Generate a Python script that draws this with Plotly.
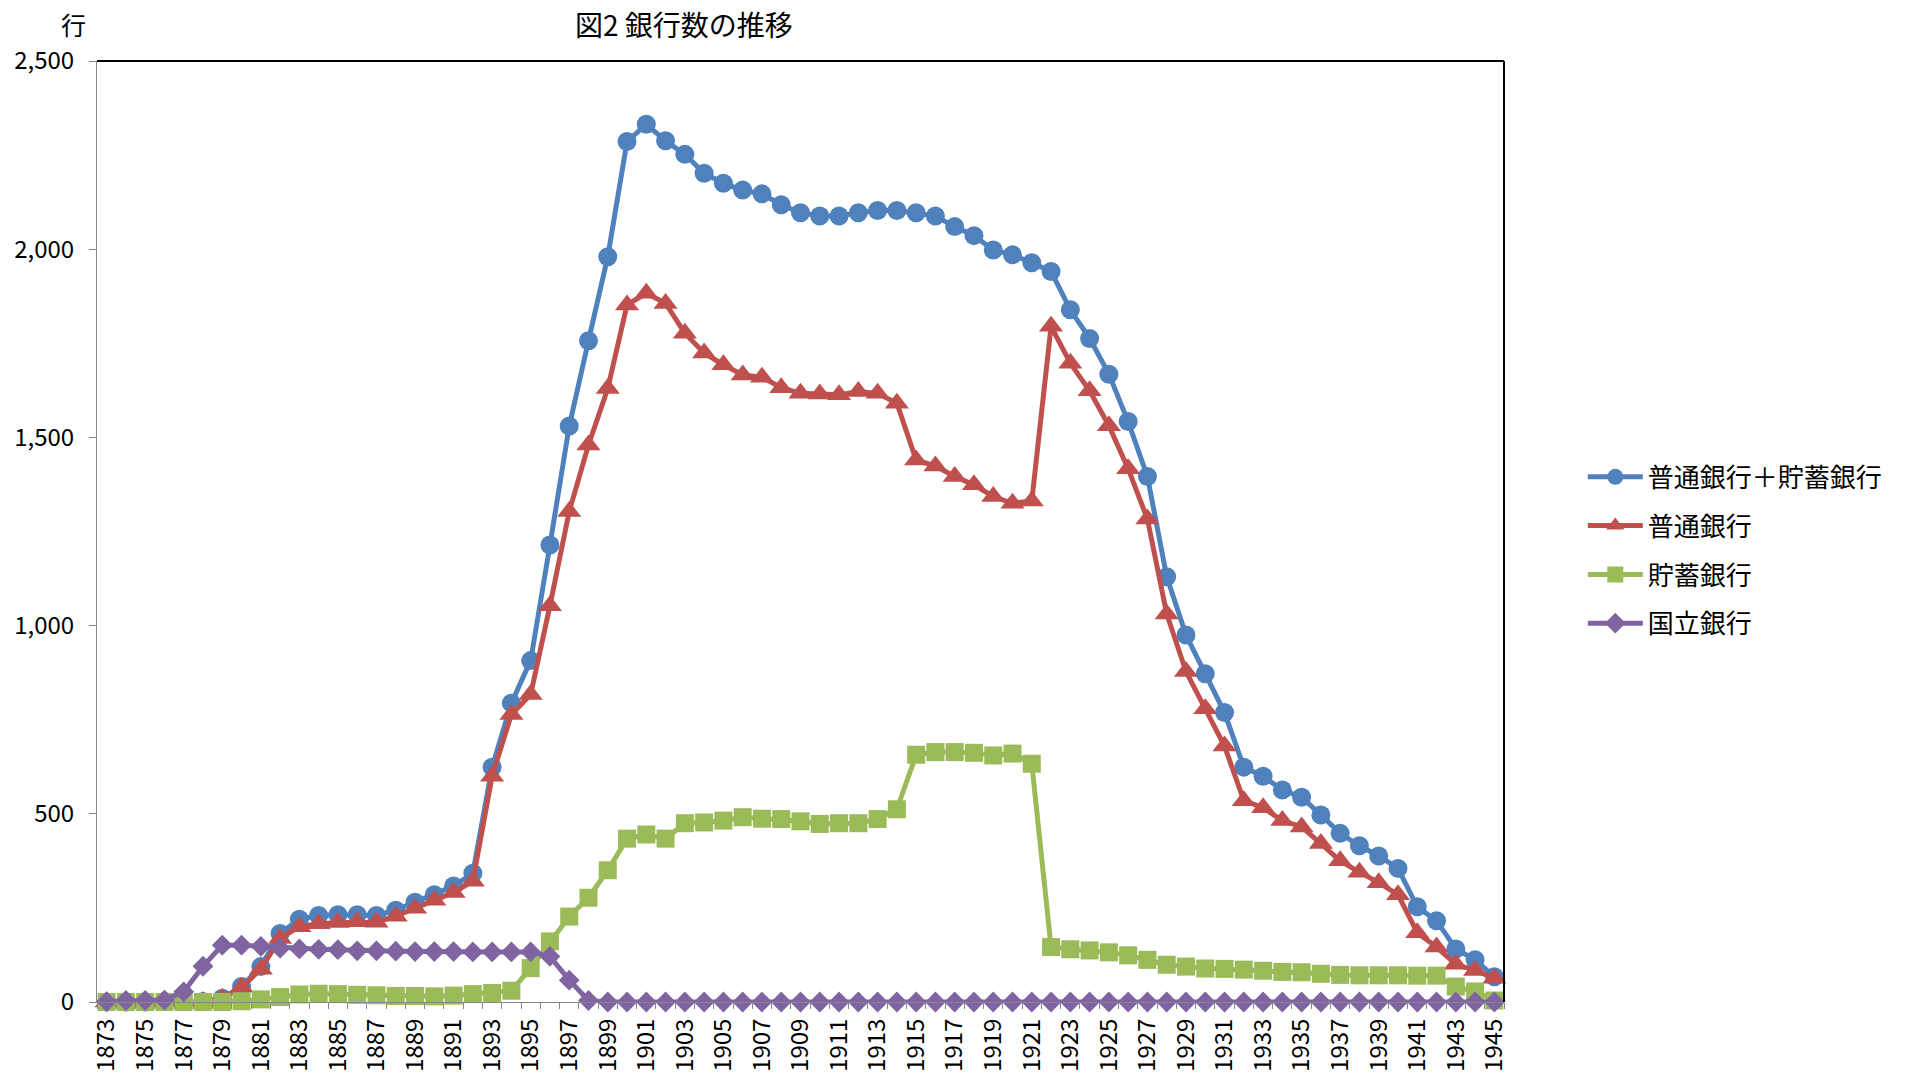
import plotly.graph_objects as go

# Number of banks in Japan, 1873-1945
years = list(range(1873, 1946))

total_banks = [
    0, 0, 0, 1, 1, 1, 10, 41, 94, 182,
    220, 230, 232, 232, 230, 244, 265, 285, 308, 342,
    624, 794, 907, 1214, 1530, 1757, 1980, 2286, 2332, 2288,
    2252, 2202, 2175, 2157, 2147, 2118, 2097, 2088, 2088, 2097,
    2103, 2103, 2097, 2088, 2060, 2036, 1998, 1985, 1964, 1941,
    1839, 1763, 1668, 1542, 1396, 1130, 975, 872, 769, 624,
    600, 563, 544, 497, 448, 415, 388, 355, 253, 216,
    141, 112, 67,
]

ordinary_banks = [
    0, 0, 0, 1, 1, 1, 10, 39, 87, 169,
    200, 208, 211, 213, 212, 228, 249, 270, 291, 321,
    600, 764, 817, 1053, 1303, 1480, 1630, 1852, 1883, 1856,
    1777, 1724, 1693, 1666, 1660, 1632, 1617, 1615, 1613, 1622,
    1617, 1591, 1440, 1424, 1396, 1374, 1343, 1325, 1331, 1795,
    1697, 1624, 1531, 1417, 1283, 1031, 878, 779, 680, 535,
    516, 482, 465, 421, 375, 345, 317, 285, 184, 146,
    100, 84, 63,
]

savings_banks = [
    0, 0, 0, 0, 0, 0, 0, 2, 7, 13,
    20, 22, 21, 19, 18, 16, 16, 15, 17, 21,
    24, 30, 90, 161, 227, 277, 350, 434, 445, 434,
    475, 477, 482, 491, 487, 486, 480, 473, 475, 475,
    486, 512, 657, 664, 664, 662, 655, 660, 633, 146,
    140, 137, 132, 124, 112, 99, 94, 89, 88, 86,
    83, 80, 79, 75, 72, 71, 71, 71, 70, 70,
    41, 28, 4,
]

national_banks = [
    1, 4, 4, 5, 27, 95, 151, 151, 148, 143,
    141, 140, 139, 136, 136, 135, 134, 134, 134, 133,
    133, 133, 133, 121, 58, 4, 0, 0, 0, 0,
    0, 0, 0, 0, 0, 0, 0, 0, 0, 0,
    0, 0, 0, 0, 0, 0, 0, 0, 0, 0,
    0, 0, 0, 0, 0, 0, 0, 0, 0, 0,
    0, 0, 0, 0, 0, 0, 0, 0, 0, 0,
    0, 0, 0,
]

series_names = ["普通銀行＋貯蓄銀行", "普通銀行", "貯蓄銀行", "国立銀行"]
series_values = [total_banks, ordinary_banks, savings_banks, national_banks]
series_colors = ["#4F81BD", "#C0504D", "#9BBB59", "#8064A2"]
series_symbols = ["circle", "triangle-up", "square", "diamond"]
series_sizes = [19, 21, 18, 16]

year_ticks = list(range(1873, 1946, 2))
year_bounds = [y + 0.5 for y in range(1872, 1946)]
value_ticks = [0, 500, 1000, 1500, 2000, 2500]

title_text = "図2 銀行数の推移"
unit_text = "行"

JP_FONT = "Noto Sans CJK JP"
AXIS_GRAY = "#868686"

fig = go.Figure()

for name, vals, color, symbol, size in zip(
    series_names, series_values, series_colors, series_symbols, series_sizes
):
    fig.add_trace(
        go.Scatter(
            x=years,
            y=vals,
            name=name,
            legendgroup=name,
            mode="lines+markers",
            line=dict(color=color, width=5),
            marker=dict(symbol=symbol, size=size, color=color, line=dict(width=0)),
            cliponaxis=False,
        )
    )

fig.update_layout(
    width=1905,
    height=1079,
    margin=dict(l=97, r=401, t=61, b=77, autoexpand=False),
    paper_bgcolor="white",
    plot_bgcolor="white",
    font=dict(family=JP_FONT, color="black"),
    showlegend=True,
    legend=dict(
        x=1.056,
        xanchor="left",
        y=0.583,
        yanchor="top",
        traceorder="grouped",
        tracegroupgap=12,
        itemwidth=55,
        font=dict(family=JP_FONT, size=26, color="black"),
        bgcolor="rgba(0,0,0,0)",
    ),
    annotations=[
        dict(
            text=title_text,
            xref="paper",
            yref="paper",
            x=(684 - 97) / 1406.7,
            y=1 + (61 - 24) / 941,
            xanchor="center",
            yanchor="middle",
            showarrow=False,
            font=dict(family=JP_FONT, size=28, color="black"),
        ),
        dict(
            text=unit_text,
            xref="paper",
            yref="paper",
            x=(74 - 97) / 1406.7,
            y=1 + (61 - 24) / 941,
            xanchor="center",
            yanchor="middle",
            showarrow=False,
            font=dict(family=JP_FONT, size=25, color="black"),
        ),
    ],
    shapes=[
        dict(type="line", xref="paper", yref="paper", x0=0, x1=1, y0=1, y1=1,
             line=dict(color="black", width=2)),
        dict(type="line", xref="paper", yref="paper", x0=1, x1=1, y0=0, y1=1,
             line=dict(color="black", width=2)),
    ],
)

fig.update_xaxes(
    range=[1872.5, 1945.5],
    automargin=False,
    tickmode="array",
    tickvals=year_ticks,
    ticktext=[str(y) for y in year_ticks],
    tickangle=-90,
    ticks="",
    ticklabelstandoff=6,
    showgrid=False,
    zeroline=False,
    showline=True,
    linecolor=AXIS_GRAY,
    linewidth=1,
    tickfont=dict(family=JP_FONT, size=24, color="black"),
    minor=dict(
        tickmode="array",
        tickvals=year_bounds,
        ticks="outside",
        ticklen=6,
        tickwidth=1,
        tickcolor=AXIS_GRAY,
        showgrid=False,
    ),
)

fig.update_yaxes(
    range=[0, 2500],
    automargin=False,
    tickmode="array",
    tickvals=value_ticks,
    tickformat=",d",
    ticks="outside",
    ticklen=7,
    tickwidth=1,
    tickcolor=AXIS_GRAY,
    showgrid=False,
    zeroline=False,
    showline=True,
    linecolor=AXIS_GRAY,
    linewidth=1,
    ticklabelstandoff=10,
    tickfont=dict(family=JP_FONT, size=24, color="black"),
)

fig.write_html("out.html")
